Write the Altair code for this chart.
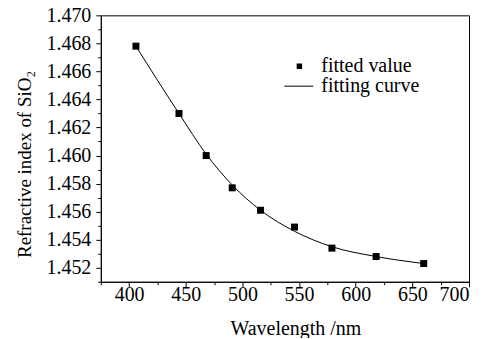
import altair as alt
import pandas as pd

# fitted values
wavelength = [406, 444, 468, 491, 516, 546, 579, 618, 660]
index_fit = [1.4678, 1.4630, 1.4600, 1.4577, 1.4561, 1.4549, 1.4534, 1.4528, 1.4523]

# fitting curve
curve_wl = [406, 444, 468, 491, 516, 546, 579, 618, 660]
curve_n = [1.4678, 1.4630, 1.4601, 1.4579, 1.4561, 1.4546, 1.4535, 1.4528, 1.4523]

legend_labels = ["fitted value", "fitting curve"]

x_ticks = [375 + 25 * i for i in range(14)]
y_ticks = [round(1.451 + 0.001 * i, 3) for i in range(20)]

FONT = "Liberation Serif"

pts = pd.DataFrame({"wl": wavelength, "n": index_fit})
crv = pd.DataFrame({"wl": curve_wl, "n": curve_n})

common_axis = dict(
    grid=False,
    domainColor="black",
    tickColor="black",
    labelColor="black",
    titleColor="black",
    labelFont=FONT,
    titleFont=FONT,
    labelFontSize=20,
    titleFontWeight="normal",
    tickWidth=1,
    domainWidth=1,
)

x_enc = alt.X(
    "wl:Q",
    scale=alt.Scale(domain=[375, 700], nice=False, zero=False),
    axis=alt.Axis(
        title="Wavelength /nm",
        values=x_ticks,
        labelExpr="datum.value % 50 == 0 ? datum.value : ''",
        tickSize={"condition": {"test": "datum.value % 50 == 0", "value": 5}, "value": 3},
        labelPadding=-2,
        titlePadding=14,
        titleX=195,
        titleFontSize=20,
        **common_axis,
    ),
)
y_enc = alt.Y(
    "n:Q",
    scale=alt.Scale(domain=[1.451, 1.470], nice=False, zero=False),
    axis=alt.Axis(
        title="Refractive index of SiO₂",
        values=y_ticks,
        labelExpr="round(datum.value*1000) % 2 == 0 ? format(datum.value, '.3f') : ''",
        tickSize={"condition": {"test": "round(datum.value*1000) % 2 == 0", "value": 5}, "value": 3},
        labelPadding=5,
        titleX=-76,
        titleY=149,
        titleAngle=270,
        titleAlign="center",
        titleBaseline="middle",
        titleFontSize=19,
        **common_axis,
    ),
)

points = alt.Chart(pts).mark_square(size=49, color="black", opacity=1).encode(x=x_enc, y=y_enc)
line = alt.Chart(crv).mark_line(color="black", strokeWidth=1, interpolate="monotone").encode(x=x_enc, y=y_enc)

leg_df = pd.DataFrame({"label": legend_labels})
leg_sq = alt.Chart(leg_df.iloc[:1]).mark_square(size=30, color="black", opacity=1).encode(
    x=alt.value(199), y=alt.value(51)
)
leg_ln = alt.Chart(leg_df.iloc[1:]).mark_rule(color="black", strokeWidth=1).encode(
    x=alt.value(184), x2=alt.value(213), y=alt.value(71)
)
leg_txt1 = alt.Chart(leg_df.iloc[:1]).mark_text(
    align="left", baseline="middle", font=FONT, fontSize=20, color="black"
).encode(x=alt.value(221), y=alt.value(51), text="label:N")
leg_txt2 = alt.Chart(leg_df.iloc[1:]).mark_text(
    align="left", baseline="middle", font=FONT, fontSize=20, color="black"
).encode(x=alt.value(221), y=alt.value(71), text="label:N")

chart = alt.layer(line, points, leg_sq, leg_ln, leg_txt1, leg_txt2).properties(
    width=369,
    height=267,
    background="white",
    autosize=alt.AutoSizeParams(type="none"),
    padding={"left": 93, "top": 7, "right": 10, "bottom": 56},
).configure_view(stroke="black", strokeWidth=1)

chart.save("out.html", embed_options={"renderer": "svg", "actions": False})
